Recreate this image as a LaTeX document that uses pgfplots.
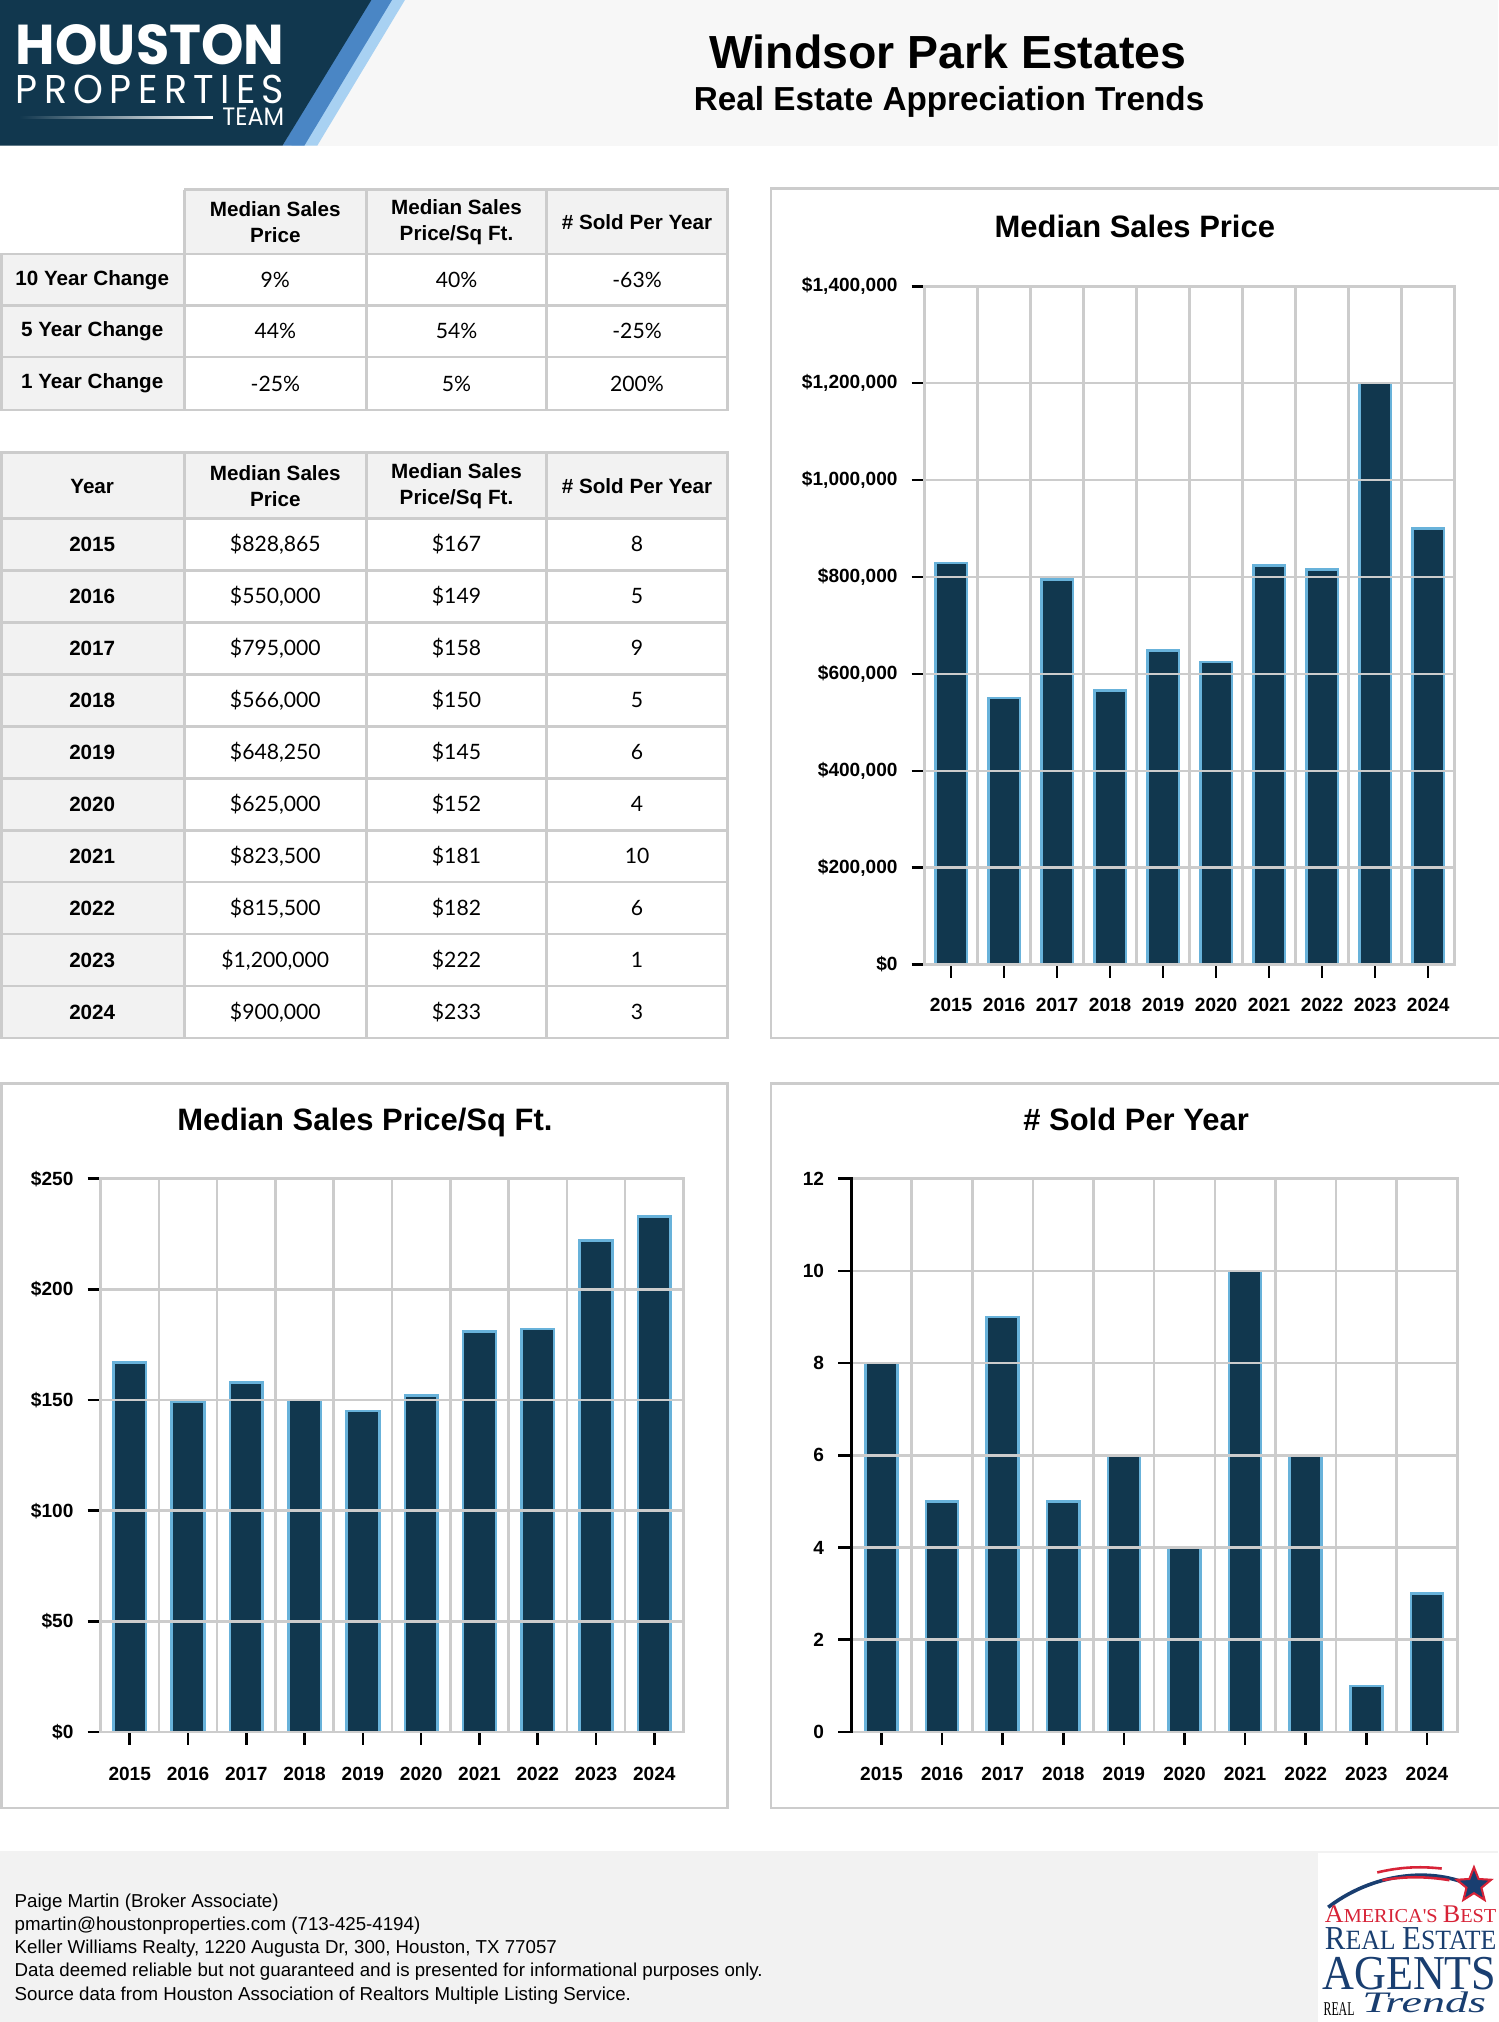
\documentclass[border=0pt]{standalone}
\usepackage{graphicx}
\usepackage{pgfplots}
\pgfplotsset{compat=1.18}
\usepackage{fontspec}
\setmainfont{Liberation Sans}
\newfontfamily\lato{Lato}
\newfontfamily\pop{Poppins}
\newfontfamily\lserif{Liberation Serif}
\usetikzlibrary{shapes.geometric}
\definecolor{navy}{RGB}{17,55,78}
\definecolor{edge}{RGB}{104,178,218}
\definecolor{gridc}{RGB}{204,204,204}
\definecolor{hdr}{RGB}{247,247,247}
\definecolor{cellg}{RGB}{242,242,242}
\definecolor{mblue}{RGB}{74,134,197}
\definecolor{lblue}{RGB}{168,209,242}
\definecolor{logored}{RGB}{215,35,55}
\definecolor{logonavy}{RGB}{25,62,112}
\newcommand{\fs}[2]{\fontsize{#1bp}{#2bp}\selectfont}

\pgfplotsset{
  barchart/.style={
    scale only axis, anchor=north west, ybar, axis on top,
    xmin=-0.5, xmax=9.5, ymin=0,
    axis line style={draw=gridc, line width=1bp},
    xtick={0,1,2,3,4,5,6,7,8,9},
    xticklabels={2015,2016,2017,2018,2019,2020,2021,2022,2023,2024},
    minor xtick={-0.5,0.5,1.5,2.5,3.5,4.5,5.5,6.5,7.5,8.5,9.5},
    xminorgrids, ymajorgrids,
    grid style={draw=gridc, line width=1bp},
    minor grid style={draw=gridc, line width=1bp},
    major tick style={draw=black, line width=1bp},
    minor tick length=0pt, major tick length=5bp,
    tick align=outside, tick pos=left,
    scaled y ticks=false,
    ticklabel style={font=\bfseries\fs{7.4}{9}},
    yticklabel style={xshift=-2bp},
    clip=false,
  }
}

\begin{document}
\begin{tikzpicture}[x=0.5bp,y=-0.5bp]
% background
\fill[white] (0,0) rectangle (1162,1568);
% header band
\fill[hdr] (0,0) rectangle (1162,113);
\fill[lblue] (296,0) -- (314,0) -- (246,113) -- (226,113) -- cycle;
\fill[mblue] (286,0) -- (304,0) -- (236,113) -- (219,113) -- cycle;
\fill[navy] (0,0) -- (288,0) -- (219,113) -- (0,113) -- cycle;
\node[anchor=base west, inner sep=0, text=white] at (12,50) {\resizebox{104bp}{15.5bp}{\pop\bfseries HOUSTON}};
\node[anchor=base west, inner sep=0, text=white] at (12,80) {\resizebox{104bp}{11bp}{\pop P\,R\,O\,P\,E\,R\,T\,I\,E\,S}};
\node[anchor=base west, inner sep=0, text=white] at (172,97) {\resizebox{24bp}{6.8bp}{\pop TEAM}};
\shade[left color=navy, right color=white] (15,90) rectangle (165,92);
\node[anchor=base, font=\bfseries\fs{18}{20}] at (735,53) {Windsor Park Estates};
\node[anchor=base, font=\bfseries\fs{12.9}{14}] at (736,86) {Real Estate Appreciation Trends};

% ---------- Table 1 ----------
\fill[cellg] (143,147) rectangle (565,197);
\fill[cellg] (0,197) rectangle (143,318);
\foreach \y in {197,237,277,318} \draw[gridc, line width=1bp] (0,\y) -- (565,\y);
\draw[gridc, line width=1bp] (143,147) -- (565,147);
\draw[gridc, line width=1bp] (1,197) -- (1,318);
\foreach \x in {143,284,424,564} \draw[gridc, line width=1bp] (\x,147) -- (\x,318);
\begin{scope}[every node/.style={align=center, font=\bfseries\fs{8}{10}}]
\node at (213.5,172) {Median Sales\\Price};
\node at (354,172) {Median Sales\\Price/Sq Ft.};
\node at (494,172) {\# Sold Per Year};
\node at (71.5,217) {10 Year Change};
\node at (71.5,257) {5 Year Change};
\node at (71.5,297.5) {1 Year Change};
\end{scope}
\begin{scope}[every node/.style={font=\lato\fs{8.2}{10}}]
\node at (213.5,217) {9\%};   \node at (354,217) {40\%}; \node at (494,217) {-63\%};
\node at (213.5,257) {44\%};  \node at (354,257) {54\%}; \node at (494,257) {-25\%};
\node at (213.5,297.5) {-25\%}; \node at (354,297.5) {5\%}; \node at (494,297.5) {200\%};
\end{scope}

% ---------- Table 2 ----------
\fill[cellg] (0,351) rectangle (565,402);
\fill[cellg] (0,402) rectangle (143,805);
\foreach \i in {0,...,10} \draw[gridc, line width=1bp] (0,{402+40.3*\i}) -- (565,{402+40.3*\i});
\draw[gridc, line width=1bp] (0,351) -- (565,351);
\foreach \x in {1,143,284,424,564} \draw[gridc, line width=1bp] (\x,351) -- (\x,805);
\begin{scope}[every node/.style={align=center, font=\bfseries\fs{8}{10}}]
\node at (71.5,377) {Year};
\node at (213.5,377) {Median Sales\\Price};
\node at (354,377) {Median Sales\\Price/Sq Ft.};
\node at (494,377) {\# Sold Per Year};
\end{scope}
\newcommand{\trow}[5]{%
  \node[font=\bfseries\fs{8}{10}] at (71.5,{402+40.3*(#1-0.5)}) {#2};
  \node[font=\lato\fs{8.2}{10}] at (213.5,{402+40.3*(#1-0.5)}) {#3};
  \node[font=\lato\fs{8.2}{10}] at (354,{402+40.3*(#1-0.5)}) {#4};
  \node[font=\lato\fs{8.2}{10}] at (494,{402+40.3*(#1-0.5)}) {#5};}
\trow{1}{2015}{\$828,865}{\$167}{8}
\trow{2}{2016}{\$550,000}{\$149}{5}
\trow{3}{2017}{\$795,000}{\$158}{9}
\trow{4}{2018}{\$566,000}{\$150}{5}
\trow{5}{2019}{\$648,250}{\$145}{6}
\trow{6}{2020}{\$625,000}{\$152}{4}
\trow{7}{2021}{\$823,500}{\$181}{10}
\trow{8}{2022}{\$815,500}{\$182}{6}
\trow{9}{2023}{\$1,200,000}{\$222}{1}
\trow{10}{2024}{\$900,000}{\$233}{3}

% ---------- Chart boxes ----------
\draw[gridc, line width=1bp] (598,146) rectangle (1170,805);
\draw[gridc, line width=1bp] (1,840) rectangle (564,1402);
\draw[gridc, line width=1bp] (598,840) rectangle (1170,1402);
\node[anchor=base, font=\bfseries\fs{12}{14}] at (880,184) {Median Sales Price};
\node[anchor=base, font=\bfseries\fs{12}{14}] at (283,877) {Median Sales Price/Sq Ft.};
\node[anchor=base, font=\bfseries\fs{12}{14}] at (881,877) {\# Sold Per Year};

% Chart 1: Median Sales Price
\begin{axis}[barchart, at={(358.5bp,-111bp)}, width=205.5bp, height=263bp,
  xticklabel style={yshift=-4.5bp},
  ymax=1400000, ytick={0,200000,400000,600000,800000,1000000,1200000,1400000},
  yticklabels={{\$0},{\$200,000},{\$400,000},{\$600,000},{\$800,000},{\$1,000,000},{\$1,200,000},{\$1,400,000}}]
\addplot[fill=navy, draw=edge, line width=1bp, bar width=0.6] coordinates {
(0,828865) (1,550000) (2,795000) (3,566000) (4,648250)
(5,625000) (6,823500) (7,815500) (8,1200000) (9,900000)};
\end{axis}

% Chart 2: Median Sales Price/Sq Ft.
\begin{axis}[barchart, at={(39bp,-457bp)}, width=226bp, height=214.5bp,
  xticklabel style={yshift=-5.2bp},
  ymax=250, ytick={0,50,100,150,200,250},
  yticklabels={{\$0},{\$50},{\$100},{\$150},{\$200},{\$250}}]
\addplot[fill=navy, draw=edge, line width=1bp, bar width=0.56] coordinates {
(0,167) (1,149) (2,158) (3,150) (4,145)
(5,152) (6,181) (7,182) (8,222) (9,233)};
\end{axis}

% Chart 3: # Sold Per Year
\begin{axis}[barchart, at={(330bp,-457bp)}, width=235bp, height=214.5bp,
  xticklabel style={yshift=-5.2bp},
  ymax=12, ytick={0,2,4,6,8,10,12},
  yticklabels={0,2,4,6,8,10,12}]
\addplot[fill=navy, draw=edge, line width=1bp, bar width=0.53] coordinates {
(0,8) (1,5) (2,9) (3,5) (4,6)
(5,4) (6,10) (7,6) (8,1) (9,3)};
\end{axis}
\draw[black, line width=1.2bp] (660,913) -- (660,1344);

% ---------- Footer ----------
\fill[cellg] (0,1435) rectangle (1162,1568);
\begin{scope}[every node/.style={anchor=base west, inner sep=0, font=\fs{7.25}{9}}]
\node at (11,1479) {Paige Martin (Broker Associate)};
\node at (11,1497) {pmartin@houstonproperties.com (713-425-4194)};
\node at (11,1515) {Keller Williams Realty, 1220 Augusta Dr, 300, Houston, TX 77057};
\node at (11,1533) {Data deemed reliable but not guaranteed and is presented for informational purposes only.};
\node at (11,1551) {Source data from Houston Association of Realtors Multiple Listing Service.};
\end{scope}
% footer logo
\fill[white] (1022,1437) rectangle (1162,1568);
\draw[logonavy, line width=1.4bp] (1030,1479) .. controls (1060,1456) and (1100,1448) .. (1133,1459);
\draw[logored, line width=1bp] (1068,1452) .. controls (1085,1448) and (1100,1447) .. (1118,1449);
\draw[logored, line width=1bp] (1072,1458) .. controls (1090,1455) and (1105,1455) .. (1124,1458);
\node[star, star points=5, star point ratio=2.3, fill=logonavy, draw=logored, line width=0.8bp, minimum size=14bp, inner sep=0] at (1143,1462) {};
\node[anchor=base west, inner sep=0, text=logored] at (1027,1491) {\resizebox{66.5bp}{6.5bp}{\lserif{\fs{9}{9}A}{\fs{7}{7}MERICA'S }{\fs{9}{9}B}{\fs{7}{7}EST}}};
\node[anchor=base west, inner sep=0, text=logonavy] at (1027,1512) {\resizebox{66.5bp}{8.5bp}{\lserif{\fs{9}{9}R}{\fs{7.5}{7.5}EAL }{\fs{9}{9}E}{\fs{7.5}{7.5}STATE}}};
\node[anchor=base west, inner sep=0, text=logonavy] at (1025,1543) {\resizebox{67.5bp}{12.5bp}{\lserif AGENTS}};
\node[anchor=base west, inner sep=0, text=black] at (1026,1563) {\resizebox{12bp}{5bp}{\lserif REAL}};
\node[anchor=base west, inner sep=0, text=logonavy] at (1056,1561) {\resizebox{48bp}{8bp}{\lserif\itshape Trends}};

\pgfresetboundingbox
\path[use as bounding box] (0,0) rectangle (1162,1568);
\end{tikzpicture}
\end{document}
